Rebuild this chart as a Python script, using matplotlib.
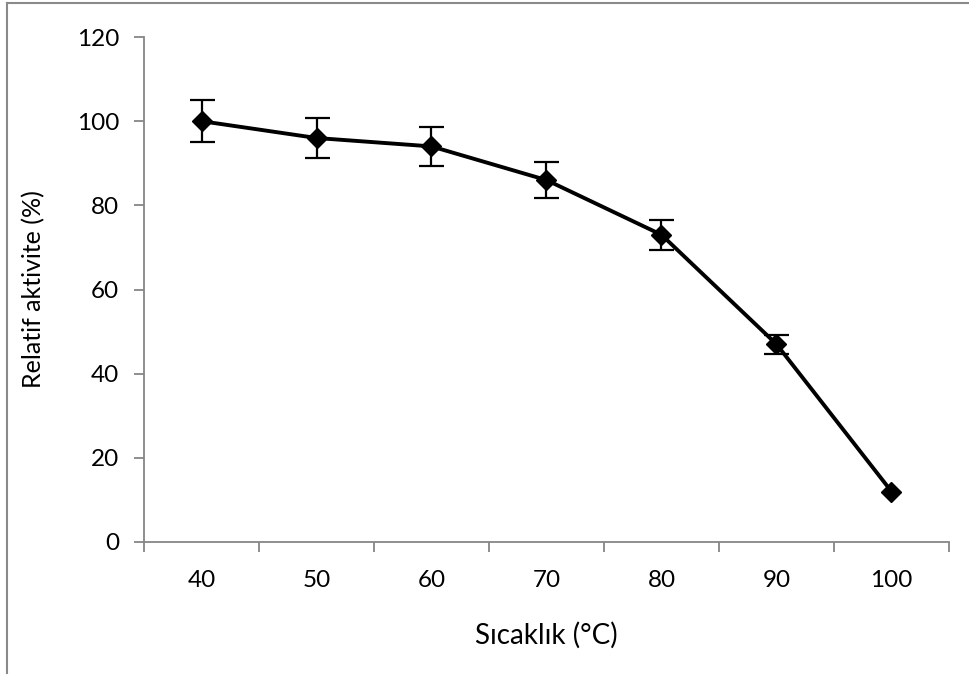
import matplotlib
matplotlib.use("Agg")
import matplotlib.pyplot as plt
from matplotlib.lines import Line2D

plt.rcParams['font.family'] = ['Lato', 'DejaVu Sans']

temperatures = ["40", "50", "60", "70", "80", "90", "100"]
activity = [100, 96, 94, 86, 73, 47, 12]
errors = [5.0, 4.7, 4.7, 4.3, 3.6, 2.3, 0.0]

fig = plt.figure(figsize=(9.69, 6.74), dpi=100)
ax = fig.add_axes([144/969, 1-542/674, (949-144)/969, (542-37)/674])

x = list(range(len(temperatures)))
ax.plot(x, activity, color='black', lw=2.8, marker='D', ms=10, zorder=3)
ex = [xi for xi, e in zip(x, errors) if e > 0]
ey = [a for a, e in zip(activity, errors) if e > 0]
ee = [e for e in errors if e > 0]
ax.errorbar(ex, ey, yerr=ee, fmt='none', ecolor='black', elinewidth=1.6,
            capsize=9, capthick=1.6, zorder=4)

ax.set_xlim(-0.5, len(temperatures) - 0.5)
ax.set_ylim(0, 120)
ax.set_yticks([0, 20, 40, 60, 80, 100, 120])
ax.set_xticks(x)
ax.set_xticklabels(temperatures)
ax.set_xticks([i - 0.5 for i in range(len(temperatures) + 1)], minor=True)

for s in ['top', 'right']:
    ax.spines[s].set_visible(False)
for s in ['left', 'bottom']:
    ax.spines[s].set_color('#868686')
    ax.spines[s].set_linewidth(1.3)

ax.tick_params(axis='y', which='major', direction='out', length=7, width=1.3,
               color='#868686', labelsize=17.5, pad=11)
ax.tick_params(axis='x', which='major', length=0, labelsize=17.5, pad=20)
ax.tick_params(axis='x', which='minor', direction='out', length=7, width=1.3,
               color='#868686')

ax.set_ylabel('Relatif aktivite (%)', fontsize=18)
ax.set_xlabel('Sıcaklık (°C)', fontsize=20)
ax.yaxis.set_label_coords(-0.123, 0.5)
ax.xaxis.set_label_coords(0.5, -0.158)

# outer frame lines
fig.add_artist(Line2D([7/969, 7/969], [0, 1-3/674], transform=fig.transFigure,
                      color='#8a8a8a', lw=1.5))
fig.add_artist(Line2D([7/969, 1], [1-3/674, 1-3/674], transform=fig.transFigure,
                      color='#8a8a8a', lw=1.5))

fig.savefig('out.png', dpi=100)
